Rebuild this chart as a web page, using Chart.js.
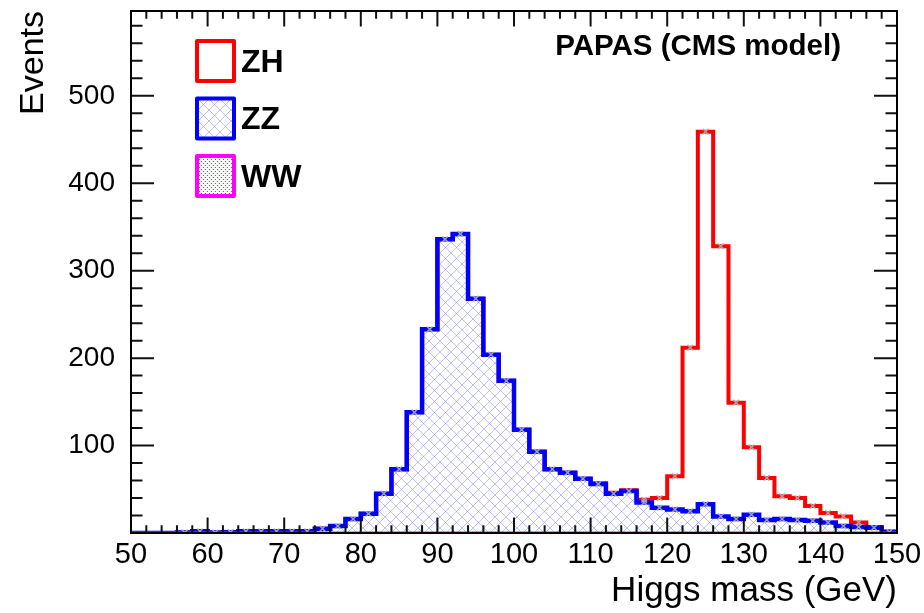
<!DOCTYPE html>
<html>
<head>
<meta charset="utf-8">
<script src="https://cdn.jsdelivr.net/npm/chart.js@4.4.1/dist/chart.umd.min.js"></script>
<style>
body{margin:0;background:#fff;}
#wrap{width:924px;height:613px;}
</style>
</head>
<body>
<div id="wrap"><canvas id="massChart"></canvas></div>
<script>
// 2 GeV bins from 50 to 150 GeV
const binLow = 50;
const binWidth = 2;

const ww = [0,0,0,0,0,0,0,0,0,0, 0,0,0,0,0,0,0,0,0,0, 0,0,0,0,0,0,0,0,0,0, 0,0,0,0,0,0,0,0,0,0, 0,0,0,0,0,0,0,0,0,0];
const zz = [0,0,0,0.5,2,0.5,1,2,2,2, 2,2,5,8,16,22,45,73,138,233, 336,342,268,204,174,118,93,73,69,62, 56,45,48,35,29,27,25,33,19,16, 21,15,16,15,14,12,8,7,6,1];
const zh = [0,0,0,0,0,0,0,0,0,0, 0,0,0,0,0,0,0,0,0,0, 0,0,0,0,0,0,0,0,0,0, 1,1,1,3,11,38,187,426,309,133, 77,48,26,25,17,11,11,5,1,1];

const xTickLabels = [50,60,70,80,90,100,110,120,130,140,150];
const yTickLabels = [100,200,300,400,500];

const fontFamily = "'Liberation Sans', Arial, Helvetica, sans-serif";

// stacked tops: WW at the bottom, then ZZ, then ZH
const wwTop = ww.slice();
const zzTop = zz.map((v, i) => v + wwTop[i]);
const zhTop = zh.map((v, i) => v + zzTop[i]);

function steps(arr) {
  const pts = arr.map((v, i) => ({x: binLow + i * binWidth, y: v}));
  pts.push({x: binLow + arr.length * binWidth, y: arr[arr.length - 1]});
  return pts;
}

function centres(arr, keep) {
  const pts = [];
  arr.forEach((v, i) => { if (keep[i] > 0) pts.push({x: binLow + (i + 0.5) * binWidth, y: v}); });
  return pts;
}

function hatchPattern() {
  const c = document.createElement('canvas');
  c.width = 11; c.height = 11;
  const g = c.getContext('2d');
  g.strokeStyle = 'rgba(125,125,255,0.5)';
  g.lineWidth = 1;
  g.beginPath();
  g.moveTo(0, 0); g.lineTo(11, 11);
  g.moveTo(11, 0); g.lineTo(0, 11);
  g.stroke();
  return g.createPattern(c, 'repeat');
}

function dotPattern() {
  const c = document.createElement('canvas');
  c.width = 4; c.height = 4;
  const g = c.getContext('2d');
  g.fillStyle = '#ff00ff';
  g.fillRect(1, 1, 1, 1);
  g.fillRect(3, 3, 1, 1);
  return g.createPattern(c, 'repeat');
}

const hatch = hatchPattern();
const dots = dotPattern();

// frame, inward ticks, legend and label in ROOT style
const rootFrame = {
  id: 'rootFrame',
  afterDraw(chart) {
    const ctx = chart.ctx;
    const {left, right, top, bottom} = chart.chartArea;
    const xs = chart.scales.x, ys = chart.scales.y;
    ctx.save();
    ctx.strokeStyle = '#111';
    ctx.lineWidth = 2;
    ctx.beginPath();
    for (let v = xs.min; v <= xs.max; v += 2) {
      const px = xs.getPixelForValue(v);
      const len = v % 10 === 0 ? 15.5 : 7.8;
      ctx.moveTo(px, bottom); ctx.lineTo(px, bottom - len);
      ctx.moveTo(px, top); ctx.lineTo(px, top + len);
    }
    for (let v = 0; v <= ys.max; v += 20) {
      const py = ys.getPixelForValue(v);
      const len = v % 100 === 0 ? 23 : 11.5;
      ctx.moveTo(left, py); ctx.lineTo(left + len, py);
      ctx.moveTo(right, py); ctx.lineTo(right - len, py);
    }
    ctx.stroke();
    ctx.strokeStyle = '#000';
    ctx.strokeRect(left, top, right - left, bottom - top);

    // legend
    const entries = chart.data.datasets.filter(d => d.legendBox);
    ctx.lineJoin = 'round';
    entries.forEach((d, i) => {
      const bx = 197, by = 41 + i * 57.5;
      ctx.fillStyle = '#fff';
      ctx.fillRect(bx, by, 37, 40);
      if (d.backgroundColor) {
        ctx.fillStyle = d.backgroundColor;
        ctx.fillRect(bx, by, 37, 40);
      }
      ctx.strokeStyle = d.borderColor;
      ctx.lineWidth = 4;
      ctx.strokeRect(bx, by, 37, 40);
      ctx.fillStyle = '#000';
      ctx.font = 'bold 32px ' + fontFamily;
      ctx.textAlign = 'left';
      ctx.textBaseline = 'middle';
      ctx.fillText(d.label, bx + 44, by + 22);
    });

    ctx.fillStyle = '#000';
    ctx.font = 'bold 29.5px ' + fontFamily;
    ctx.textAlign = 'right';
    ctx.textBaseline = 'middle';
    ctx.fillText('PAPAS (CMS model)', 841, 47);
    ctx.restore();
  }
};

const legendOrder = ['ZH', 'ZZ', 'WW'];

new Chart(document.getElementById('massChart'), {
  type: 'line',
  data: {
    datasets: [
      {
        label: 'Bin errors',
        data: centres(zzTop, zz).concat(centres(zhTop, zh.map(v => v > 2 ? v : 0))),
        showLine: false,
        pointStyle: 'crossRot',
        pointRadius: 4,
        borderColor: 'rgba(175,175,175,0.9)',
        borderWidth: 1.5,
        order: -1
      },
      {
        label: 'WW',
        data: steps(wwTop),
        stepped: true,
        borderColor: '#ff00ff',
        backgroundColor: dots,
        borderWidth: 3,
        fill: 'origin',
        pointRadius: 0,
        order: 0
      },
      {
        label: 'ZZ',
        data: steps(zzTop),
        stepped: true,
        borderColor: '#0000ff',
        backgroundColor: hatch,
        borderWidth: 4.5,
        fill: 'origin',
        pointRadius: 0,
        order: 1
      },
      {
        label: 'ZH',
        data: steps(zhTop),
        stepped: true,
        borderColor: '#ff0000',
        borderWidth: 4,
        fill: false,
        pointRadius: 0,
        order: 2
      }
    ]
  },
  options: {
    responsive: true,
    maintainAspectRatio: false,
    animation: false,
    layout: {padding: {top: 11, right: 27, left: 0, bottom: 0}},
    elements: {line: {borderJoinStyle: 'miter', borderCapStyle: 'butt'}},
    plugins: {legend: {display: false}, tooltip: {enabled: false}},
    scales: {
      x: {
        type: 'linear',
        min: 50,
        max: 150,
        afterBuildTicks: s => { s.ticks = xTickLabels.map(v => ({value: v})); },
        afterFit: s => { s.height = 80; s.paddingLeft = 0; s.paddingRight = 0; },
        grid: {display: false},
        border: {display: false},
        ticks: {autoSkip: false, maxRotation: 0, color: '#000', padding: -3,
                font: {family: fontFamily, size: 29}},
        title: {display: true, text: 'Higgs mass (GeV)', align: 'end', color: '#000',
                font: {family: fontFamily, size: 35}, padding: {top: 0, bottom: 1}}
      },
      y: {
        type: 'linear',
        min: 0,
        max: 597,
        afterBuildTicks: s => { s.ticks = yTickLabels.map(v => ({value: v})); },
        afterFit: s => { s.width = 131; s.paddingTop = 0; s.paddingBottom = 0; },
        grid: {display: false},
        border: {display: false},
        ticks: {color: '#000', padding: 8, font: {family: fontFamily, size: 28}},
        title: {display: true, text: 'Events', align: 'end', color: '#000',
                font: {family: fontFamily, size: 34}, padding: {top: 13, bottom: 0}}
      }
    }
  },
  plugins: [rootFrame, {
    id: 'legendEntries',
    beforeInit(chart) {
      // legend boxes listed top to bottom as ZH, ZZ, WW
      legendOrder.forEach(name => {
        const d = chart.data.datasets.find(ds => ds.label === name);
        if (d) d.legendBox = true;
      });
      chart.data.datasets.sort((a, b) => legendOrder.indexOf(a.label) - legendOrder.indexOf(b.label));
    }
  }]
});
</script>
</body>
</html>
